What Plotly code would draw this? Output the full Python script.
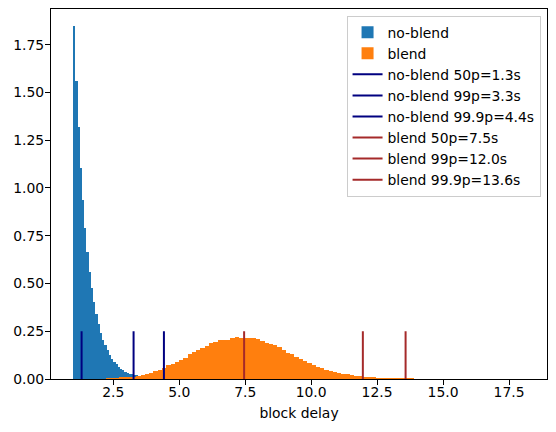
import plotly.graph_objects as go

# ---- data ----
noblend_bin_start = 0.975
noblend_bin_width = 0.0848
noblend_density = [1.846, 1.561, 1.317, 1.105, 0.938, 0.791, 0.667, 0.560, 0.478, 0.403,
                   0.340, 0.288, 0.243, 0.205, 0.176, 0.150, 0.124, 0.106, 0.090, 0.076,
                   0.064, 0.053, 0.046, 0.038, 0.031, 0.026, 0.024, 0.022, 0.019, 0.016,
                   0.014, 0.012, 0.010, 0.009, 0.008]

blend_bin_start = 2.24
blend_bin_width = 0.162
blend_density = [0.003, 0.004, 0.005, 0.006, 0.008, 0.010, 0.012, 0.016, 0.021, 0.026,
                 0.031, 0.042, 0.047, 0.056, 0.075, 0.080, 0.087, 0.098, 0.110, 0.131,
                 0.141, 0.152, 0.162, 0.175, 0.189, 0.194, 0.204, 0.204, 0.204, 0.215,
                 0.220, 0.215, 0.215, 0.215, 0.215, 0.210, 0.199, 0.189, 0.183, 0.178,
                 0.168, 0.152, 0.136, 0.131, 0.115, 0.105, 0.094, 0.084, 0.073, 0.064,
                 0.058, 0.047, 0.042, 0.036, 0.031, 0.026, 0.026, 0.021, 0.016, 0.016,
                 0.010, 0.010, 0.010, 0.005, 0.005, 0.005, 0.005, 0.005, 0.005, 0.005,
                 0.005, 0.005]

percentile_names = ["50p", "99p", "99.9p"]
noblend_percentiles = [1.30, 3.27, 4.42]
blend_percentiles = [7.46, 11.96, 13.58]
marker_height = 0.25

x_ticks = [2.5, 5.0, 7.5, 10.0, 12.5, 15.0, 17.5]
y_ticks = [0.0, 0.25, 0.5, 0.75, 1.0, 1.25, 1.5, 1.75]

# ---- figure ----
FONT = "DejaVu Sans"
FS = 13.9

def centers(start, width, n):
    return [start + (i + 0.5) * width for i in range(n)]

fig = go.Figure()
fig.add_trace(go.Bar(
    x=centers(noblend_bin_start, noblend_bin_width, len(noblend_density)),
    y=noblend_density, width=noblend_bin_width, name="no-blend",
    marker=dict(color="#1f77b4", line=dict(width=0)),
))
fig.add_trace(go.Bar(
    x=centers(blend_bin_start, blend_bin_width, len(blend_density)),
    y=blend_density, width=blend_bin_width, name="blend",
    marker=dict(color="#ff7f0e", line=dict(width=0)),
))
for nm, v in zip(percentile_names, noblend_percentiles):
    fig.add_trace(go.Scatter(x=[v, v], y=[0, marker_height], mode="lines",
                             line=dict(color="#000080", width=2),
                             name=f"no-blend {nm}={v:.1f}s"))
for nm, v in zip(percentile_names, blend_percentiles):
    fig.add_trace(go.Scatter(x=[v, v], y=[0, marker_height], mode="lines",
                             line=dict(color="#a52a2a", width=2),
                             name=f"blend {nm}={v:.1f}s"))

axis_common = dict(showline=True, linecolor="black", linewidth=1, mirror=True,
                   ticks="outside", ticklen=5, tickwidth=1, tickcolor="black",
                   showgrid=False, zeroline=False, automargin=False,
                   tickfont=dict(family=FONT, size=FS, color="black"))

# page body has an 8px offset, so the figure is 8px smaller in each direction
fig.update_layout(
    width=548, height=424,
    margin=dict(l=43, r=9, t=1, b=53),
    paper_bgcolor="white", plot_bgcolor="white",
    barmode="overlay", bargap=0,
    font=dict(family=FONT, size=FS, color="black"),
    xaxis=dict(range=[0.14, 18.94], tickvals=x_ticks,
               ticktext=[f"{t:.1f}" for t in x_ticks],
               ticklabelstandoff=-5,
               title=dict(text="block delay", font=dict(family=FONT, size=FS), standoff=9),
               **axis_common),
    yaxis=dict(range=[0, 1.937], tickvals=y_ticks,
               ticktext=[f"{t:.2f}" for t in y_ticks],
               ticklabelstandoff=-2,
               **axis_common),
    legend=dict(x=0.987, y=0.982, xanchor="right", yanchor="top",
                bgcolor="rgba(255,255,255,0.8)", bordercolor="#cccccc", borderwidth=1,
                font=dict(family=FONT, size=FS), tracegroupgap=0),
    showlegend=True,
)

fig.write_html("out.html")
